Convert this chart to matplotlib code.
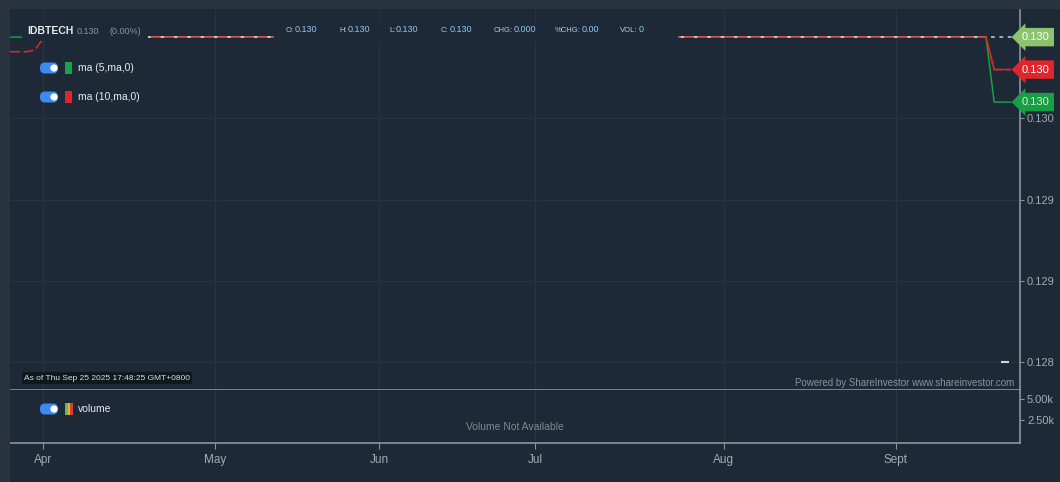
import numpy as np
import matplotlib
matplotlib.use('Agg')
import matplotlib.pyplot as plt
from matplotlib.patches import Rectangle, FancyBboxPatch, Circle

plt.rcParams['font.family'] = ['Liberation Sans', 'DejaVu Sans']

# data (x = trading day index, 0 = 1 Apr)
month_idx = [0, 21, 41, 60, 83, 104]
month_lbl = ['Apr', 'May', 'Jun', 'Jul', 'Aug', 'Sept']

price_x = np.arange(0, 116)
price_y = np.full(len(price_x), 0.1300)

ma5_x = np.arange(-4, 119)
ma5_y = np.concatenate([np.full(120, 0.1300), [0.1296, 0.1296, 0.1296]])

ma10_x = np.arange(-4, 119)
ma10_y = np.concatenate([[0.12991, 0.12991, 0.12991, 0.12992, 0.12999],
                         np.full(115, 0.1300), [0.1298, 0.1298, 0.1298]])

ytick_vals = [0.1295, 0.1290, 0.1285, 0.1280]
ytick_lbls = ['0.130', '0.129', '0.129', '0.128']
vol_ticks = [5000, 2500]
vol_lbls = ['5.00k', '2.50k']

bg = '#1d2936'
edge = '#2a3440'
axcol = '#8a949e'
txtcol = '#a3acb5'
gridcol = '#27333f'

W, H = 1060, 482
fig = plt.figure(figsize=(10.6, 4.82), dpi=100, facecolor=bg)

def px(l, t, r, b):
    return [l / W, 1 - b / H, (r - l) / W, (b - t) / H]

ax = fig.add_axes(px(10, 10, 1020, 390), facecolor=bg)
axv = fig.add_axes(px(10, 390, 1020, 443), facecolor=bg, sharex=ax)

xl = (-4.02, 119.15)
ax.set_xlim(xl)
ax.set_ylim(0.127827, 0.130167)
axv.set_ylim(-238, 6070)

for a in (ax, axv):
    for s in ('left', 'top'):
        a.spines[s].set_visible(False)
    for s in ('right', 'bottom'):
        a.spines[s].set_color(axcol)
        a.spines[s].set_linewidth(1.2)
    a.yaxis.tick_right()
    a.tick_params(axis='y', colors=axcol, labelcolor=txtcol, labelsize=8, length=3, pad=2)
    a.set_xticks(month_idx)
    a.grid(True, axis='x', color=gridcol, lw=1)
    a.set_axisbelow(True)

ax.tick_params(axis='x', length=0, labelbottom=False)
axv.tick_params(axis='x', colors=axcol, labelcolor=txtcol, labelsize=8.5, length=4, pad=4)
axv.set_xticklabels(month_lbl)

ax.set_yticks(ytick_vals)
ax.set_yticklabels(ytick_lbls)
ax.grid(True, axis='y', color=gridcol, lw=1)
axv.set_yticks(vol_ticks)
axv.set_yticklabels(vol_lbls)

# lines
ax.plot(ma5_x, ma5_y, color='#14a33c', lw=1.1, zorder=3)
ax.plot(price_x, price_y, color='#e8d2d2', lw=1.2, zorder=4)
ax.plot(ma10_x, ma10_y, color='#d42a2a', lw=1.2, ls=(0, (6, 2)), zorder=5)
ax.plot(ma10_x[-4:], ma10_y[-4:], color='#d42a2a', lw=1.1, zorder=5)
ax.hlines(price_y[-1], price_x[-1] + 0.6, xl[1] - 0.3, colors='#c9ced3', lw=1.1,
          linestyles=(0, (2.5, 3)), zorder=4)
ax.plot([117.3], [0.1280], marker='_', color='#d0d5da', ms=6, mew=1.5)

# price tags
trans = ax.get_yaxis_transform()
for val, yv, fc, tc in [('0.130', price_y[-1], '#8cc46e', 'white'),
                        ('0.130', ma10_y[-1], '#e0252b', 'white'),
                        ('0.130', ma5_y[-1], '#17a043', '#dbe8dc')]:
    ax.text(1.002, yv, val, transform=trans, ha='left', va='center', fontsize=8,
            color=tc, clip_on=False, zorder=10,
            bbox=dict(boxstyle='larrow,pad=0.38', fc=fc, ec='none'))

axv.text(0.5, 0.30, 'Volume Not Available', transform=axv.transAxes, ha='center',
         va='center', fontsize=7.5, color='#7f8891')

# overlay in pixel coordinates
ov = fig.add_axes([0, 0, 1, 1], facecolor='none')
ov.set_xlim(0, W)
ov.set_ylim(H, 0)
ov.axis('off')

ov.add_patch(Rectangle((0, 0), 10, H, fc=edge, ec='none'))
ov.add_patch(Rectangle((10, 0), W, 9, fc=edge, ec='none'))

# header band
ov.add_patch(Rectangle((22, 23), 126, 18, fc=bg, ec='none'))
ov.add_patch(Rectangle((274, 23), 404, 19, fc=bg, ec='none'))
ov.text(27, 31, 'IDBTECH', fontsize=7.5, fontweight='bold', color='#e8ecef', va='center')
ov.text(77, 32, '0.130', fontsize=6.5, color='#8d969f', va='center')
ov.text(110, 32, '(0.00%)', fontsize=6.5, color='#8d969f', va='center')

ohlc = [(286, 'O:', '0.130'), (339, 'H:', '0.130'), (389, 'L:', '0.130'),
        (441, 'C:', '0.130'), (494, 'CHG:', '0.000'), (555, '%CHG:', '0.00'),
        (620, 'VOL:', '0')]
for xp, lab, v in ohlc:
    t = ov.text(xp, 30, lab, fontsize=5.5, color='#c2c8ce', va='center')
    ov.annotate(v, xycoords=t, xy=(1, 0.5), xytext=(0.5, 0), textcoords='offset points',
                fontsize=6.5, color='#8ec8f2', va='center')

def toggle(x, y):
    ov.add_patch(FancyBboxPatch((x + 5, y - 0.5), 8, 1, boxstyle='round,pad=5',
                                fc='#3d8bf2', ec='none', mutation_aspect=1))
    ov.add_patch(Circle((x + 14, y), 3.6, fc='white', ec='none'))

toggle(40, 68)
ov.add_patch(Rectangle((65, 62), 7, 12, fc='#16a34a', ec='none'))
ov.text(78, 68, 'ma (5,ma,0)', fontsize=7.5, color='#e8ecef', va='center')
toggle(40, 97)
ov.add_patch(Rectangle((65, 91), 7, 12, fc='#e0252b', ec='none'))
ov.text(78, 97, 'ma (10,ma,0)', fontsize=7.5, color='#e8ecef', va='center')
toggle(40, 409)
ov.add_patch(Rectangle((65, 403), 2.5, 12, fc='#5fbf4a', ec='none'))
ov.add_patch(Rectangle((67.5, 403), 2, 12, fc='#d9b44a', ec='none'))
ov.add_patch(Rectangle((69.5, 403), 3.5, 12, fc='#d9432b', ec='none'))
ov.text(78, 409, 'volume', fontsize=7.5, color='#e8ecef', va='center')

ov.text(24, 378, 'As of Thu Sep 25 2025 17:48:25 GMT+0800', fontsize=6, color='#d8dde2',
        va='center', bbox=dict(boxstyle='square,pad=0.25', fc='#0f171f', ec='none'))
ov.text(1014, 383, 'Powered by ShareInvestor www.shareinvestor.com', fontsize=7,
        color='#8a939c', va='center', ha='right')

fig.savefig('out.png', dpi=100, facecolor=bg)
